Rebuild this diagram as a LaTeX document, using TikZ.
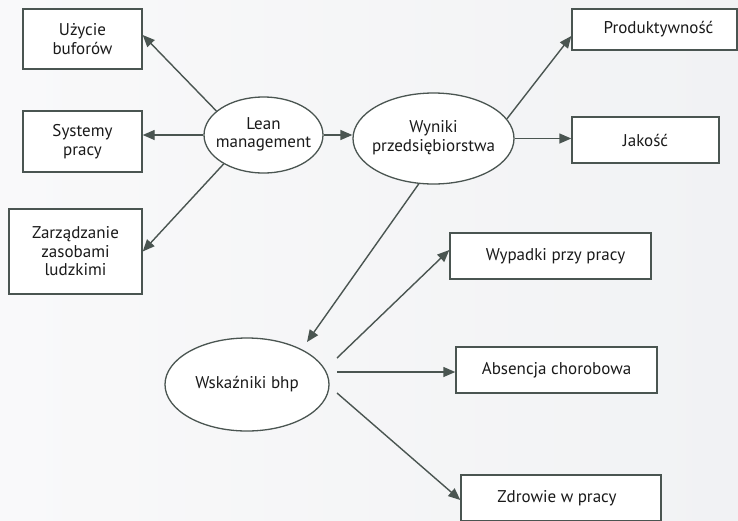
\documentclass[tikz,border=0pt]{standalone}
\usepackage{fontspec}
\setmainfont{PT Sans}
\usetikzlibrary{shapes.geometric,arrows.meta,calc}
\definecolor{ln}{HTML}{4A5551}
\definecolor{txt}{HTML}{1A1A1A}
\definecolor{bgl}{HTML}{F9F9FA}
\definecolor{bgr}{HTML}{F1F2F4}
\newcommand{\ovaltext}[1]{\makebox[0pt]{\begin{tabular}{@{}c@{}}#1\end{tabular}}}
\begin{document}
\begin{tikzpicture}[x=1pt,y=-1pt,
  font=\fontsize{17}{18.5}\selectfont, text=txt,
  boxnode/.style={draw=ln, line width=1.4pt, fill=white, rectangle, inner sep=0pt, align=center},
  ovalnode/.style={draw=ln, line width=1.3pt, fill=white, ellipse, inner sep=0pt},
  conn/.style={draw=ln, line width=1.4pt, -{Triangle[length=12pt,width=10pt]}}]
\useasboundingbox (0,0) rectangle (738,520);
\shade[left color=bgl, right color=bgr] (0,0) rectangle (738,520);
% boxes
\node[boxnode, minimum width=119pt, minimum height=60pt] (b1) at (82.5,39) {Użycie\\buforów};
\node[boxnode, minimum width=119pt, minimum height=61pt] (b2) at (82.5,141.5) {Systemy\\pracy};
\node[boxnode, minimum width=133pt, minimum height=85pt] (b3) at (75.5,251.5) {Zarządzanie\\zasobami\\ludzkimi};
\node[boxnode, minimum width=165pt, minimum height=41pt] (prod) at (654.5,29.5) {\hspace*{8pt}Produktywność};
\node[boxnode, minimum width=147pt, minimum height=46pt] (jak) at (645.5,140) {Jakość};
\node[boxnode, minimum width=201pt, minimum height=46pt] (wyp) at (550.5,256) {\hspace*{10pt}Wypadki przy pracy};
\node[boxnode, minimum width=201pt, minimum height=46pt] (abs) at (556.5,370) {Absencja chorobowa};
\node[boxnode, minimum width=200pt, minimum height=46pt] (zdr) at (561,498) {Zdrowie w pracy\hspace*{8pt}};
% ellipses
\node[ovalnode, minimum width=119pt, minimum height=76pt] (lean) at (263.5,135) {\ovaltext{Lean\\management}};
\node[ovalnode, minimum width=161pt, minimum height=91pt] (wyn) at (433.5,138.5) {\ovaltext{Wyniki\\przedsiębiorstwa}};
\node[ovalnode, minimum width=164pt, minimum height=93pt] (wsk) at (247,384.5) {\ovaltext{Wskaźniki bhp}};
% connectors
\draw[conn] (lean.153) -- ([yshift=4pt]b1.east);
\draw[conn] (lean.west) -- (lean.west -| b2.east);
\draw[conn] (lean.216) -- (b3.east);
\draw[conn] (lean.east) -- (lean.east -| wyn.west);
\draw[conn] (wyn.15) -- ([yshift=-6.5pt]prod.west);
\draw[conn] (wyn.east) -- (wyn.east -| jak.west);
\draw[conn] (wyn.252.7) -- ($(wsk.center)+(60,-42.5)$);
\draw[conn] ($(wsk.center)+(90,-26.5)$) -- ([yshift=6pt]wyp.west);
\draw[conn] ($(wsk.center)+(90,-12.5)$) -- ([yshift=-2pt]abs.west);
\draw[conn] ($(wsk.center)+(90,8.5)$) -- ([yshift=-2pt]zdr.west);
\end{tikzpicture}
\end{document}
